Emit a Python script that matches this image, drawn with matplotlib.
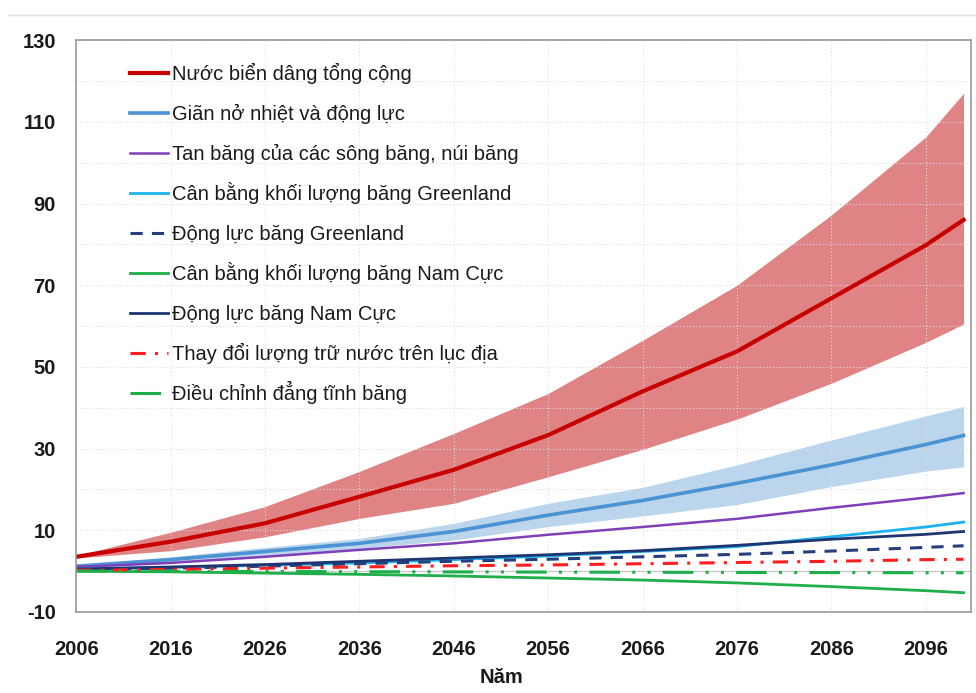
import matplotlib
matplotlib.use("Agg")
import matplotlib.pyplot as plt
from matplotlib.legend import Legend
from matplotlib.lines import Line2D

plt.rcParams["font.family"] = ["Liberation Sans", "DejaVu Sans"]
plt.rcParams["axes.unicode_minus"] = False

years = [2006, 2016, 2026, 2036, 2046, 2056, 2066, 2076, 2086, 2096, 2100]

# tổng cộng (mean, upper, lower) - cm
total = [3.5, 7.2, 11.7, 18.2, 24.8, 33.3, 44.0, 53.8, 66.8, 79.8, 86.0]
total_hi = [3.8, 9.5, 15.8, 24.4, 33.7, 43.5, 56.5, 70.0, 87.2, 106.3, 117.0]
total_lo = [3.2, 5.0, 8.4, 12.9, 16.6, 23.1, 29.8, 37.2, 46.0, 56.0, 60.5]

# giãn nở nhiệt
thermal = [1.2, 2.8, 4.8, 6.8, 9.7, 13.7, 17.3, 21.5, 26.0, 31.0, 33.2]
thermal_hi = [1.4, 3.5, 5.8, 8.0, 11.7, 16.6, 20.5, 26.0, 32.1, 38.0, 40.3]
thermal_lo = [1.0, 2.3, 3.8, 5.6, 7.6, 10.9, 13.5, 16.3, 20.7, 24.5, 25.5]

glaciers = [1.0, 2.0, 3.5, 5.2, 6.8, 8.9, 10.8, 12.8, 15.5, 18.0, 19.1]
greenland_smb = [0.5, 0.9, 1.4, 2.0, 2.8, 3.7, 4.8, 6.0, 8.4, 10.8, 12.0]
greenland_dyn = [0.3, 0.7, 1.2, 1.8, 2.4, 2.9, 3.5, 4.1, 4.9, 5.8, 6.2]
antarctic_smb = [0.0, -0.2, -0.5, -0.8, -1.2, -1.7, -2.2, -2.9, -3.8, -4.8, -5.3]
antarctic_dyn = [0.5, 1.0, 1.6, 2.4, 3.2, 4.0, 5.0, 6.3, 7.8, 9.0, 9.7]
land_water = [0.2, 0.4, 0.7, 1.0, 1.3, 1.5, 1.8, 2.1, 2.4, 2.8, 2.9]
gia = [0.0, -0.05, -0.1, -0.15, -0.2, -0.25, -0.3, -0.33, -0.37, -0.4, -0.42]

labels = [
    "Nước biển dâng tổng cộng",
    "Giãn nở nhiệt và động lực",
    "Tan băng của các sông băng, núi băng",
    "Cân bằng khối lượng băng Greenland",
    "Động lực băng Greenland",
    "Cân bằng khối lượng băng Nam Cực",
    "Động lực băng Nam Cực",
    "Thay đổi lượng trữ nước trên lục địa",
    "Điều chỉnh đẳng tĩnh băng",
]
x_ticks = list(range(2006, 2100, 10))
y_ticks = list(range(-10, 131, 20))

fig = plt.figure(figsize=(9.76, 6.93), dpi=100)
ax = fig.add_axes([0.078, 0.117, 0.917, 0.825])

# faint line at the very top of the screenshot
fig.add_artist(Line2D([0.008, 1.0], [0.978, 0.978], transform=fig.transFigure,
                      color="0.88", linewidth=1.0))

ax.fill_between(years, total_lo, total_hi, color="#DF8385", linewidth=0)
ax.fill_between(years, thermal_lo, thermal_hi, color="#BBD5EC", linewidth=0)
ax.axhline(0, color="0.75", linewidth=0.9, zorder=1)

h_total, = ax.plot(years, total, color="#C80000", linewidth=3.0)
h_thermal, = ax.plot(years, thermal, color="#4C93D3", linewidth=2.6)
h_glac, = ax.plot(years, glaciers, color="#7E3FB8", linewidth=1.8)
h_gsmb, = ax.plot(years, greenland_smb, color="#1DB2F0", linewidth=2.0)
h_gdyn, = ax.plot(years, greenland_dyn, color="#253F7E", linewidth=2.2,
                  linestyle=(0, (4, 3)))
h_asmb, = ax.plot(years, antarctic_smb, color="#1FAF4A", linewidth=2.0)
h_adyn, = ax.plot(years, antarctic_dyn, color="#1E3570", linewidth=2.0)
h_land, = ax.plot(years, land_water, color="#FF1E1E", linewidth=2.2,
                  linestyle=(0, (5, 3, 1, 3)))
h_gia, = ax.plot(years, gia, color="#1FAF4A", linewidth=2.2,
                 linestyle=(0, (10, 4, 1, 4, 1, 4)))

handles = [h_total, h_thermal, h_glac, h_gsmb, h_gdyn, h_asmb, h_adyn, h_land, h_gia]

# one legend per row so that the rows are evenly spaced
row_top = 0.923
row_step = 0.0699
for i, (h, lab) in enumerate(zip(handles, labels)):
    leg = Legend(ax, [h], [lab], loc="lower left",
                 bbox_to_anchor=(0.060, row_top - i * row_step),
                 frameon=False, fontsize=14.5, handlelength=1.9,
                 handletextpad=0.2, borderpad=0, borderaxespad=0,
                 labelcolor="#1a1a1a")
    ax.add_artist(leg)

ax.set_xlim(2006, 2100.8)
ax.set_ylim(-10, 130)
ax.set_xticks(x_ticks)
ax.set_yticks(y_ticks)
ax.set_yticks(range(-10, 131, 10), minor=True)
ax.tick_params(axis="both", which="both", length=0, labelsize=14.5)
ax.tick_params(axis="x", pad=20)
ax.tick_params(axis="y", pad=14.5)
for lbl in ax.get_xticklabels() + ax.get_yticklabels():
    lbl.set_fontweight("bold")
    lbl.set_color("#1a1a1a")
ax.grid(True, which="both", linestyle=(0, (1, 2)), color="0.87", linewidth=0.8)
for spine in ax.spines.values():
    spine.set_color("0.6")
    spine.set_linewidth(1.2)

ax.set_xlabel("Năm", fontsize=14.5, fontweight="bold", color="#1a1a1a")
ax.xaxis.set_label_coords(0.475, -0.098)

fig.savefig("out.png", dpi=100)
